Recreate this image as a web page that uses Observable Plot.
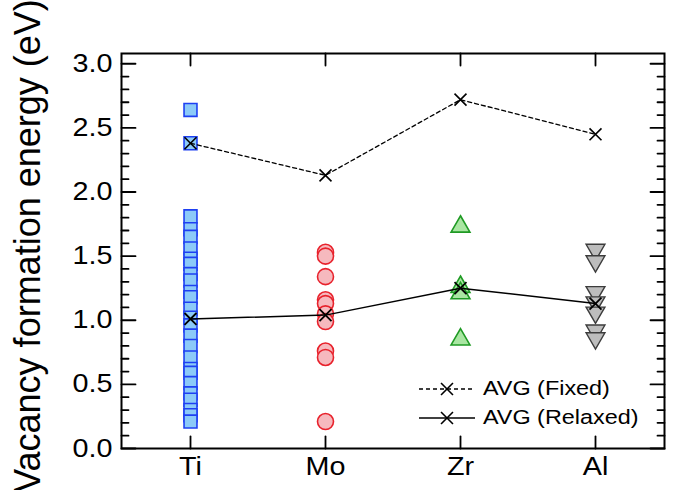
<!DOCTYPE html>
<html>
<head>
<meta charset="utf-8">
<script src="https://cdn.jsdelivr.net/npm/d3@7"></script>
<script src="https://cdn.jsdelivr.net/npm/@observablehq/plot@0.6"></script>
<style>
  html, body { margin: 0; padding: 0; background: #fff; }
  #chart { width: 675px; height: 490px; overflow: hidden; }
</style>
</head>
<body>
<div id="chart"></div>
<script>
// Vacancy formation energies per element (eV)
const elements = ["Ti", "Mo", "Zr", "Al"];
const tiValues = [2.64, 2.38, 1.81, 1.71, 1.65, 1.56, 1.48, 1.44, 1.36, 1.31, 1.22, 1.18,
                  1.09, 1.02, 0.96, 0.88, 0.80, 0.71, 0.62, 0.59, 0.51, 0.43, 0.38, 0.30, 0.26, 0.21];
const moValues = [1.53, 1.50, 1.34, 1.16, 1.13, 1.05, 0.99, 0.76, 0.71, 0.21];
const zrValues = [1.73, 1.26, 1.21, 0.85];
const alValues = [1.55, 1.46, 1.22, 1.14, 1.06, 0.92, 0.86];
const avgFixed = [2.38, 2.13, 2.72, 2.45];
const avgRelaxed = [1.01, 1.04, 1.25, 1.13];

// Axis ticks
const majorTicks = [0.0, 0.5, 1.0, 1.5, 2.0, 2.5, 3.0];
const minorTicks = [0.1, 0.2, 0.3, 0.4, 0.6, 0.7, 0.8, 0.9, 1.1, 1.2, 1.3, 1.4,
                    1.6, 1.7, 1.8, 1.9, 2.1, 2.2, 2.3, 2.4, 2.6, 2.7, 2.8, 2.9];

const avgTable = elements.map((el, i) => ({element: el, fixed: avgFixed[i], relaxed: avgRelaxed[i]}));

// a plain straight segment used for inward-pointing ticks
const tickShape = {draw(context, l) { context.moveTo(0, 0); context.lineTo(0, -l); }};
const tickMark = (data, opts) => Plot.vector(data, {
  anchor: "start", shape: tickShape, stroke: "black", strokeWidth: 1.8, ...opts
});

const font = "'Liberation Sans', Arial, Helvetica, sans-serif";

const chart = Plot.plot({
  width: 675,
  height: 490,
  marginLeft: 121,
  marginRight: 11,
  marginTop: 53,
  marginBottom: 42,
  style: {fontFamily: font, fontSize: "25px", background: "white", color: "black"},
  x: {type: "point", domain: elements, padding: 0.5},
  y: {domain: [0, 3.08]},
  marks: [
    Plot.dot(tiValues, {x: () => "Ti", y: d => d, symbol: "square", r: 7.3,
      fill: "#8ccaf8", stroke: "#1e40f2", strokeWidth: 1.6}),
    Plot.dot(moValues, {x: () => "Mo", y: d => d, symbol: "circle", r: 8,
      fill: "#f6b9be", stroke: "#e8222c", strokeWidth: 1.6}),
    Plot.dot(zrValues, {x: () => "Zr", y: d => d, symbol: "triangle", r: 7,
      fill: "#a9e6a2", stroke: "#1f9a24", strokeWidth: 1.6}),
    Plot.dot(alValues, {x: () => "Al", y: d => d, symbol: "triangle", r: 7, rotate: 180,
      fill: "#bdbdbd", stroke: "#3c3c3c", strokeWidth: 1.4}),

    Plot.line(avgTable, {x: "element", y: "fixed", stroke: "black", strokeWidth: 1.3, strokeDasharray: "4,3"}),
    Plot.line(avgTable, {x: "element", y: "relaxed", stroke: "black", strokeWidth: 1.5}),
    Plot.dot(avgTable, {x: "element", y: "fixed", symbol: "times", r: 5.5, stroke: "black", strokeWidth: 1.6}),
    Plot.dot(avgTable, {x: "element", y: "relaxed", symbol: "times", r: 5.5, stroke: "black", strokeWidth: 1.8}),

    Plot.frame({stroke: "black", strokeWidth: 2}),
    tickMark(majorTicks, {y: d => d, frameAnchor: "left", rotate: 90, length: 14}),
    tickMark(minorTicks, {y: d => d, frameAnchor: "left", rotate: 90, length: 7}),
    tickMark(majorTicks, {y: d => d, frameAnchor: "right", rotate: -90, length: 14}),
    tickMark(minorTicks, {y: d => d, frameAnchor: "right", rotate: -90, length: 7}),
    tickMark(elements, {x: d => d, frameAnchor: "bottom", rotate: 0, length: 12}),
    tickMark(elements, {x: d => d, frameAnchor: "top", rotate: 180, length: 12}),

    Plot.axisY({ticks: majorTicks, tickSize: 0, tickPadding: 9, tickFormat: d3.format(".1f"),
      label: null, fontSize: 25}),
    Plot.axisX({tickSize: 0, tickPadding: 9, label: null, fontSize: 25})
  ]
});

const svg = d3.select(chart);

// the tick labels are set in a slightly wide face
svg.selectAll("g[aria-label$='tick label'] text").each(function () {
  const t = this.getAttribute("transform");
  if (t) {
    this.setAttribute("transform", t + " scale(1.15,1)");
  } else {
    const x = +this.getAttribute("x") || 0, y = +this.getAttribute("y") || 0;
    this.setAttribute("x", 0);
    this.setAttribute("y", 0);
    this.setAttribute("transform", `translate(${x},${y}) scale(1.15,1)`);
  }
});

// y-axis title
svg.append("text")
  .attr("transform", "translate(27,246) rotate(-90)")
  .attr("text-anchor", "middle")
  .attr("dominant-baseline", "central")
  .style("font-family", font)
  .style("font-size", "36px")
  .attr("fill", "black")
  .text("Vacancy formation energy (eV)");

// legend
const legendItems = [
  {label: "AVG (Fixed)", dash: "4,3", y: 389},
  {label: "AVG (Relaxed)", dash: null, y: 418}
];
const lg = svg.append("g").attr("text-anchor", "start");
for (const item of legendItems) {
  lg.append("line")
    .attr("x1", 419).attr("x2", 475).attr("y1", item.y).attr("y2", item.y)
    .attr("stroke", "black").attr("stroke-width", 1.3)
    .attr("stroke-dasharray", item.dash);
  lg.append("path")
    .attr("d", d3.symbol(d3.symbolTimes, Math.PI * 5.5 * 5.5)())
    .attr("transform", `translate(447,${item.y})`)
    .attr("fill", "none").attr("stroke", "black").attr("stroke-width", 1.6);
  lg.append("text")
    .attr("transform", `translate(483,${item.y}) scale(1.2,1)`)
    .attr("text-anchor", "start")
    .attr("dominant-baseline", "central")
    .style("font-family", font)
    .style("font-size", "19.5px")
    .attr("fill", "black")
    .text(item.label);
}

document.getElementById("chart").appendChild(chart);
</script>
</body>
</html>
